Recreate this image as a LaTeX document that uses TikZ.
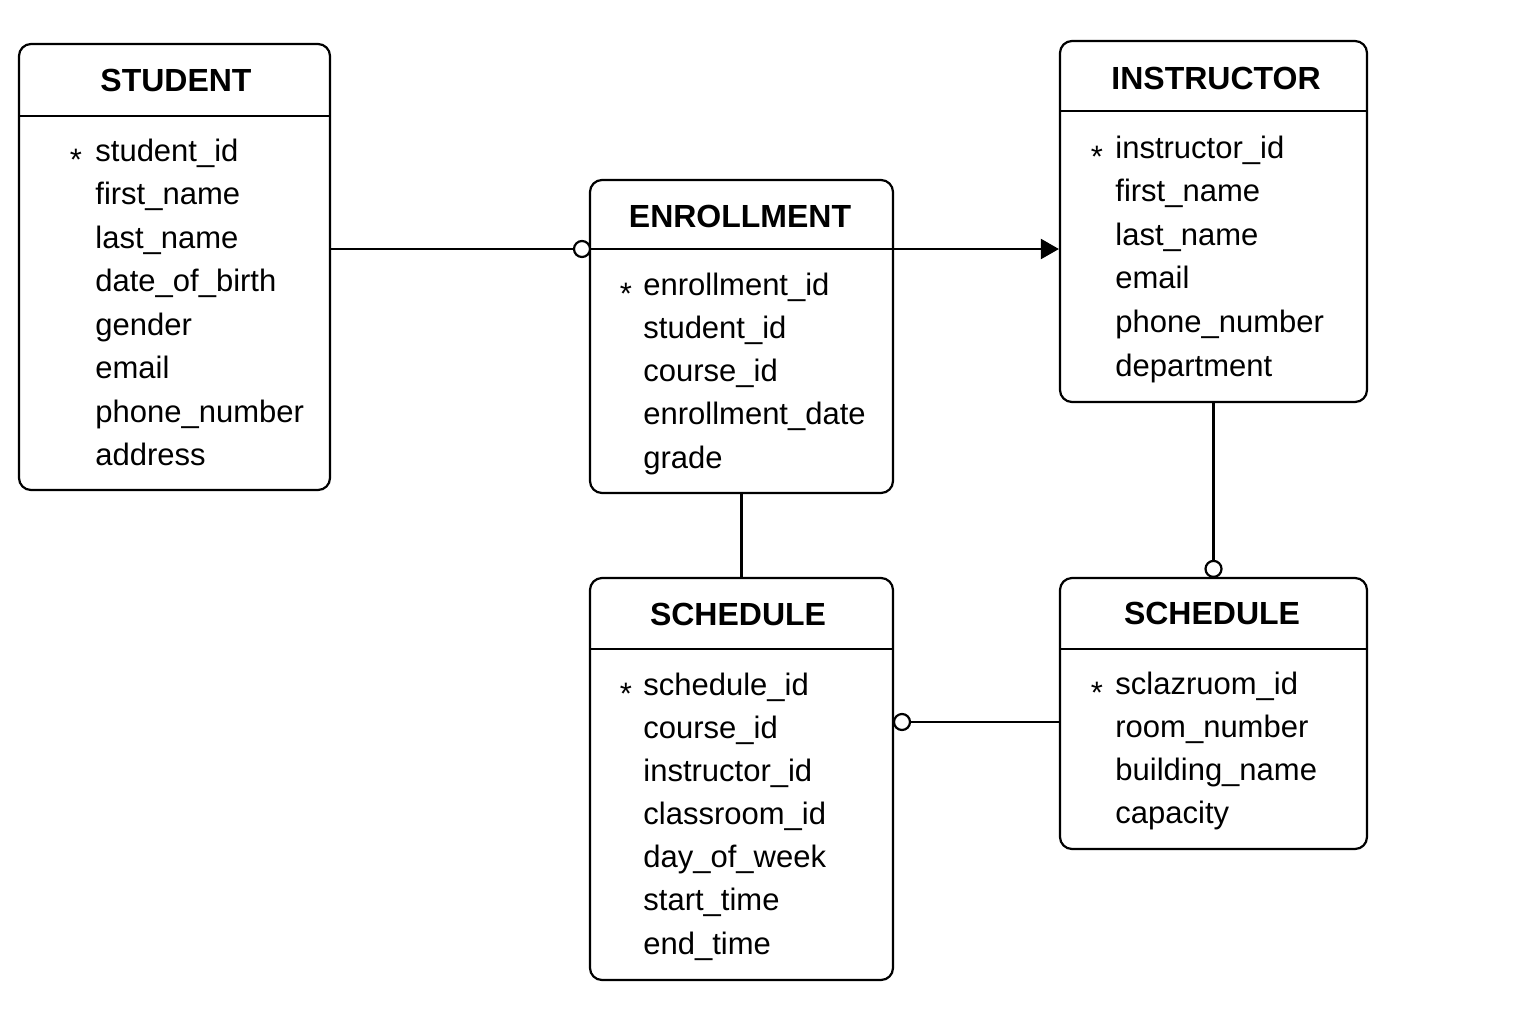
\documentclass[tikz,border=0pt]{standalone}
\usepackage{fontspec}
\setmainfont{Liberation Sans}
\usetikzlibrary{arrows.meta}

\tikzset{
  entity/.style={draw, line width=1.1pt, rounded corners=6pt, inner sep=0pt},
  title/.style={font=\bfseries\fontsize{16}{19}\selectfont, inner sep=0pt},
  attr/.style={anchor=base west, inner sep=0pt, font=\fontsize{15.5}{18}\selectfont},
  keymark/.style={anchor=base, inner sep=0pt, font=\fontsize{15.5}{18}\selectfont},
  link/.style={line width=1.1pt},
  zero/.style={line width=1.1pt, fill=white}
}

\begin{document}
\begin{tikzpicture}[x=0.5pt,y=-0.5pt]
\useasboundingbox (0,0) rectangle (1536,1024);

% tables
\node[entity, minimum width=155.5pt, minimum height=223pt] (student) at (174.5,267) {};
\node[entity, minimum width=151.5pt, minimum height=156.5pt] (enroll) at (741.5,336.5) {};
\node[entity, minimum width=153.5pt, minimum height=180.5pt] (instr) at (1213.5,221.5) {};
\node[entity, minimum width=151.5pt, minimum height=201pt] (sched) at (741.5,779) {};
\node[entity, minimum width=153.5pt, minimum height=135.5pt] (room) at (1213.5,713.5) {};

\coordinate (student-h) at (19,116);
\coordinate (enroll-h) at (590,249);
\coordinate (instr-h) at (1060,111);
\coordinate (sched-h) at (590,649);
\coordinate (room-h) at (1060,649);

\draw[link] (student-h) -- (student-h -| student.east);
\draw[link] (enroll-h) -- (enroll-h -| enroll.east);
\draw[link] (instr-h) -- (instr-h -| instr.east);
\draw[link] (sched-h) -- (sched-h -| sched.east);
\draw[link] (room-h) -- (room-h -| room.east);

\node[title] (student-t) at (176,80.5) {STUDENT};
\node[title] (enroll-t) at (740,216) {ENROLLMENT};
\node[title] (instr-t) at (1216,78) {INSTRUCTOR};
\node[title] (sched-t) at (738,614) {SCHEDULE};
\node[title] (room-t) at (1212,613) {SCHEDULE};

% attributes
\node[keymark] (student-k) at (76,170) {*};
\foreach \t [count=\i from 0] in {student\_id,first\_name,last\_name,date\_of\_birth,gender,email,phone\_number,address}
  \node[attr] (student-a\i) at (95,161+43.5*\i) {\t};

\node[keymark] (enroll-k) at (626,304) {*};
\foreach \t [count=\i from 0] in {enrollment\_id,student\_id,course\_id,enrollment\_date,grade}
  \node[attr] (enroll-a\i) at (643,295+43.25*\i) {\t};

\node[keymark] (instr-k) at (1097,167) {*};
\foreach \t [count=\i from 0] in {instructor\_id,first\_name,last\_name,email,phone\_number,department}
  \node[attr] (instr-a\i) at (1115,158+43.6*\i) {\t};

\node[keymark] (sched-k) at (626,704) {*};
\foreach \t [count=\i from 0] in {schedule\_id,course\_id,instructor\_id,classroom\_id,day\_of\_week,start\_time,end\_time}
  \node[attr] (sched-a\i) at (643,695+43.17*\i) {\t};

\node[keymark] (room-k) at (1097,703) {*};
\foreach \t [count=\i from 0] in {sclazruom\_id,room\_number,building\_name,capacity}
  \node[attr] (room-a\i) at (1115,694+43.3*\i) {\t};

% relationships
\draw[link] (student.east |- enroll-h) -- (enroll-h);
\draw[zero] ([xshift=-4pt]enroll-h) circle (4pt);

\draw[link, -{Triangle[length=9pt,width=10pt]}] (enroll-h -| enroll.east) -- (enroll-h -| instr.west);

\draw[link] (enroll.south) -- (sched.north);

\draw[link] (instr.south) -- (room.north);
\draw[zero] ([yshift=4pt]room.north) circle (4pt);

\coordinate (sched-r) at (893,722);
\draw[link] (sched-r) -- (sched-r -| room.west);
\draw[zero] ([xshift=4.5pt]sched-r) circle (4pt);

\end{tikzpicture}
\end{document}
